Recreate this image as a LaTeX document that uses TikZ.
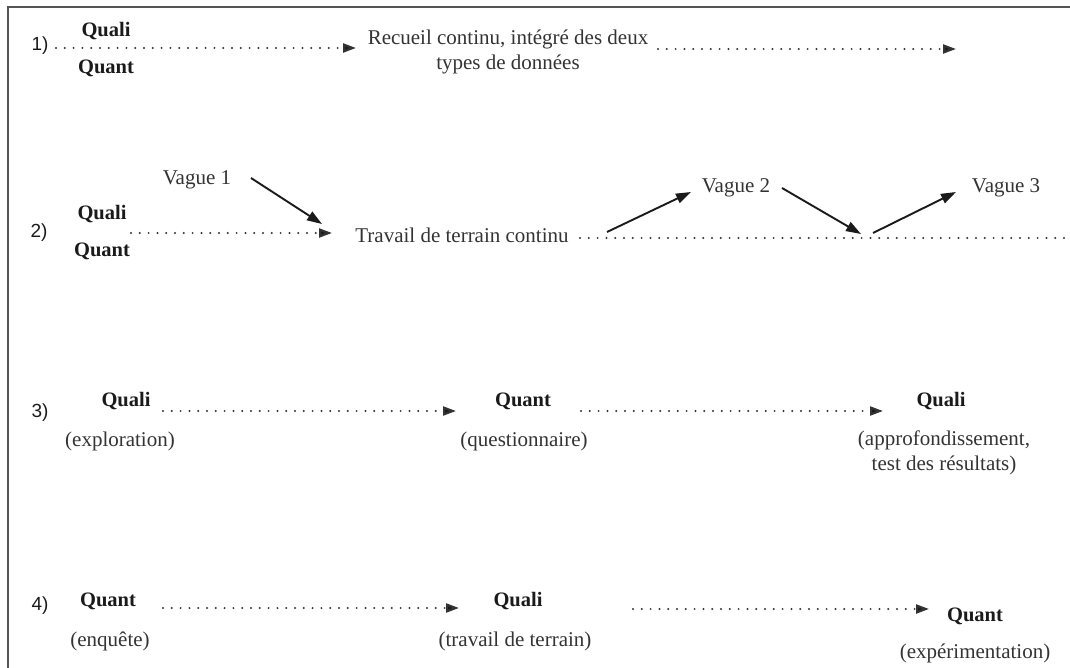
\documentclass[tikz,border=0pt]{standalone}
\usepackage{fontspec}
\setmainfont{Liberation Serif}
\newfontfamily\numfont{Liberation Sans}
\usetikzlibrary{arrows.meta}
\definecolor{txtgray}{HTML}{333333}
\definecolor{txtdark}{HTML}{1A1A1A}
\definecolor{framegray}{HTML}{555555}
\begin{document}
\begin{tikzpicture}[x=1pt,y=-1pt,
  plain/.style={inner sep=0pt, text=txtgray, align=center,
    font=\fontsize{21}{24.5}\selectfont},
  strong/.style={inner sep=0pt, text=txtdark,
    font=\fontsize{20.5}{24}\selectfont\bfseries},
  rownum/.style={inner sep=0pt, text=txtdark,
    font=\numfont\fontsize{19}{22}\selectfont},
  dots/.style={line width=2.2pt, draw=txtgray, dash pattern=on 0pt off 8.8pt,
    line cap=round},
  dotarrow/.style={dots, -{Triangle[length=13pt,width=9pt,fill=txtdark]}},
  wave/.style={line width=1.9pt, draw=txtdark,
    -{Triangle[length=15pt,width=10pt,fill=txtdark]}}]
\useasboundingbox (0,0) rectangle (1070,668);
% frame
\draw[framegray, line width=2.2pt] (8,668) -- (8,7) -- (1070,7);

% ---- 1) continuous integrated collection
\node[rownum] (n1) at (40,46) {1)};
\node[strong] (quali1) at (106,31) {Quali};
\node[strong] (quant1) at (106,68) {Quant};
\node[plain] (recueil) at (508,52) {Recueil continu, intégré des deux\\types de données};
\coordinate (a1s) at (56,48);
\coordinate (a1e) at (356,48);
\coordinate (b1s) at (658,49);
\coordinate (b1e) at (956,49);
\draw[dotarrow] (a1s) -- (a1e);
\draw[dotarrow] (b1s) -- (b1e);

% ---- 2) continuous fieldwork with waves
\node[rownum] (n2) at (39,233) {2)};
\node[strong] (quali2) at (102,214) {Quali};
\node[strong] (quant2) at (102,251) {Quant};
\node[plain] (vague1) at (197,180) {Vague 1};
\node[plain] (travail) at (462,235) {Travail de terrain continu};
\node[plain] (vague2) at (736,188) {Vague 2};
\node[plain] (vague3) at (1006,188) {Vague 3};
\coordinate (a2s) at (131,233);
\coordinate (a2e) at (332,233);
\coordinate (b2s) at (580,238);
\coordinate (b2e) at (1070,238);
\draw[dotarrow] (a2s) -- (a2e);
\draw[dots] (b2s) -- (b2e);
\coordinate (w1s) at (251,178);
\coordinate (w1e) at (322,224);
\coordinate (w2s) at (607,232);
\coordinate (w2e) at (691,192);
\coordinate (w3s) at (782,188);
\coordinate (w3e) at (861,234);
\coordinate (w4s) at (873,233);
\coordinate (w4e) at (956,192);
\draw[wave] (w1s) -- (w1e);
\draw[wave] (w2s) -- (w2e);
\draw[wave] (w3s) -- (w3e);
\draw[wave] (w4s) -- (w4e);

% ---- 3) quali -> quant -> quali
\node[rownum] (n3) at (40,413) {3)};
\node[strong] (quali3) at (126,401) {Quali};
\node[plain] (expl) at (120,441) {(exploration)};
\node[strong] (quant3) at (523,401) {Quant};
\node[plain] (quest) at (524,441) {(questionnaire)};
\node[strong] (quali3b) at (941,401) {Quali};
\node[plain] (approf) at (944,453) {(approfondissement,\\test des résultats)};
\coordinate (a3s) at (163,411);
\coordinate (a3e) at (456,411);
\coordinate (b3s) at (581,411);
\coordinate (b3e) at (883,411);
\draw[dotarrow] (a3s) -- (a3e);
\draw[dotarrow] (b3s) -- (b3e);

% ---- 4) quant -> quali -> quant
\node[rownum] (n4) at (40,606) {4)};
\node[strong] (quant4) at (108,601) {Quant};
\node[plain] (enq) at (110,641) {(enquête)};
\node[strong] (quali4) at (518,601) {Quali};
\node[plain] (trav) at (515,641) {(travail de terrain)};
\node[strong] (quant4b) at (975,616) {Quant};
\node[plain] (exper) at (975,653) {(expérimentation)};
\coordinate (a4s) at (163,608);
\coordinate (a4e) at (459,608);
\coordinate (b4s) at (633,609);
\coordinate (b4e) at (929,609);
\draw[dotarrow] (a4s) -- (a4e);
\draw[dotarrow] (b4s) -- (b4e);
\end{tikzpicture}
\end{document}
